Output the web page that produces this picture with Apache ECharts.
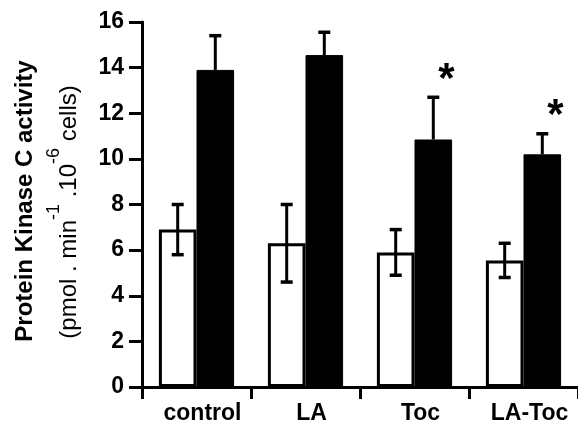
<!DOCTYPE html>
<html>
<head>
<meta charset="utf-8">
<script src="https://cdn.jsdelivr.net/npm/echarts@6/dist/echarts.min.js"></script>
<style>
html,body{margin:0;padding:0;background:#fff;}
#chart{width:578px;height:425px;}
</style>
</head>
<body>
<div id="chart"></div>
<script>
const categories = ['control', 'LA', 'Toc', 'LA-Toc'];
const whiteValues = [6.9, 6.3, 5.9, 5.55];
const whiteErrors = [1.1, 1.7, 1.0, 0.75];
const blackValues = [13.9, 14.55, 10.85, 10.2];
const blackErrors = [1.5, 1.0, 1.85, 0.9];
const stars = ['', '', '*', '*'];
const yTicks = [0, 2, 4, 6, 8, 10, 12, 14, 16];

const CAT_GAP = 0.31;
const FONT = '"Liberation Sans", Arial, sans-serif';

const chart = echarts.init(document.getElementById('chart'), null, {renderer: 'canvas'});

function errRender(side, errs, withStar) {
  return function (params, api) {
    const idx = api.value(0);
    const val = api.value(1);
    const err = errs[idx];
    const catW = api.size([1, 0])[0];
    const barW = catW * (1 - CAT_GAP) / 2;
    const c = api.coord([idx, val]);
    const x = c[0] + side * barW / 2;
    const yTop = api.coord([idx, val + err])[1];
    const yBot = side < 0 ? api.coord([idx, val - err])[1] : c[1];
    const capW = 12;
    const children = [
      {type: 'line', shape: {x1: x, y1: yTop, x2: x, y2: yBot}, style: {stroke: '#000', lineWidth: 3}},
      {type: 'line', shape: {x1: x - capW / 2, y1: yTop, x2: x + capW / 2, y2: yTop}, style: {stroke: '#000', lineWidth: 3.5}}
    ];
    if (side < 0) {
      children.push({type: 'line', shape: {x1: x - capW / 2, y1: yBot, x2: x + capW / 2, y2: yBot}, style: {stroke: '#000', lineWidth: 3.5}});
    }
    if (withStar && stars[idx]) {
      children.push({type: 'text', style: {text: stars[idx], x: x + 13, y: yTop - 17, align: 'center', verticalAlign: 'middle', font: 'bold 42px ' + FONT, fill: '#000'}});
    }
    return {type: 'group', children: children};
  };
}

const option = {
  animation: false,
  backgroundColor: '#fff',
  grid: {left: 142, right: -9, top: 22, bottom: 37},
  xAxis: {
    type: 'category',
    data: categories,
    boundaryGap: true,
    axisLine: {lineStyle: {color: '#000', width: 3}},
    axisTick: {show: true, length: 12, lineStyle: {color: '#000', width: 3}},
    axisLabel: {color: '#000', fontFamily: FONT, fontWeight: 'bold', fontSize: 23, margin: 15, padding: [0, 0, 0, 12]},
    splitLine: {show: false}
  },
  yAxis: {
    type: 'value',
    min: yTicks[0],
    max: yTicks[yTicks.length - 1],
    interval: 2,
    axisLine: {show: true, lineStyle: {color: '#000', width: 3}},
    axisTick: {show: true, length: 13, lineStyle: {color: '#000', width: 3}},
    axisLabel: {color: '#000', fontFamily: FONT, fontWeight: 'bold', fontSize: 23, margin: 18},
    splitLine: {show: false}
  },
  series: [
    {
      type: 'bar', data: whiteValues, barGap: '0%', barCategoryGap: (CAT_GAP * 100) + '%',
      itemStyle: {color: '#fff', borderColor: '#000', borderWidth: 3}, z: 2
    },
    {
      type: 'bar', data: blackValues, barGap: '0%', barCategoryGap: (CAT_GAP * 100) + '%',
      itemStyle: {color: '#000', borderColor: '#000', borderWidth: 1}, z: 2
    },
    {
      type: 'custom', data: whiteValues.map((v, i) => [i, v]),
      renderItem: errRender(-1, whiteErrors, false), z: 3
    },
    {
      type: 'custom', data: blackValues.map((v, i) => [i, v]),
      renderItem: errRender(1, blackErrors, true), z: 3
    }
  ],
  graphic: [
    {
      type: 'text', x: 25, y: 201, rotation: Math.PI / 2,
      style: {text: 'Protein Kinase C activity', font: 'bold 24px ' + FONT, fill: '#000', align: 'center', verticalAlign: 'middle'}
    },
    {
      type: 'text', x: 63, y: 212, rotation: Math.PI / 2,
      style: {
        text: '{n|(pmol . min}{s|-1}{n| .10}{s|-6}{n| cells)}',
        align: 'center', verticalAlign: 'middle', fill: '#000',
        rich: {
          n: {fontFamily: FONT, fontSize: 24, lineHeight: 36, verticalAlign: 'bottom', fill: '#000'},
          s: {fontFamily: FONT, fontSize: 18, lineHeight: 18, verticalAlign: 'top', fill: '#000'}
        }
      }
    }
  ]
};
chart.setOption(option);
</script>
</body>
</html>
